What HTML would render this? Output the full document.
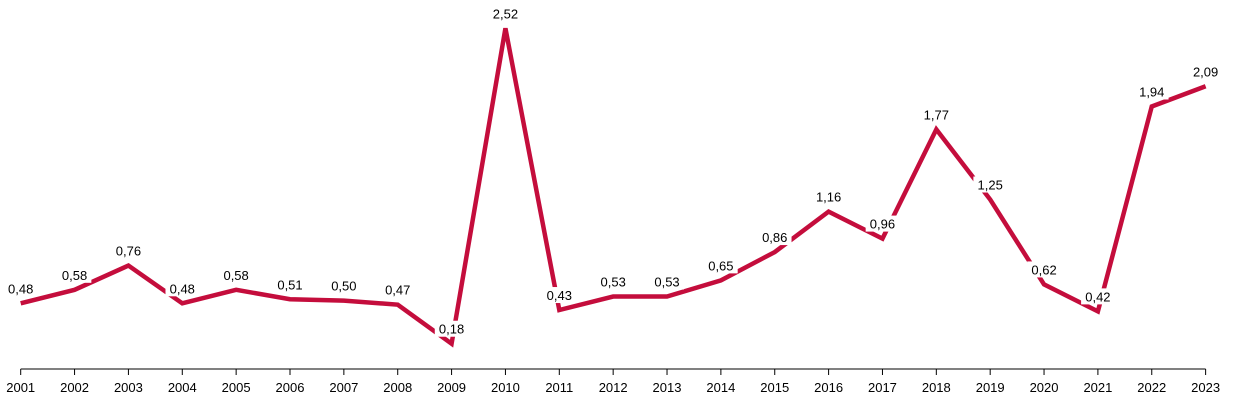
<!DOCTYPE html>
<html><head><meta charset="utf-8"><style>
html,body{margin:0;padding:0;background:#fff;}
svg{display:block;font-family:"Liberation Sans",sans-serif;}
</style></head><body>
<svg id="chart" width="1249" height="412"></svg>
<script>
const years=["2001","2002","2003","2004","2005","2006","2007","2008","2009","2010","2011","2012","2013","2014","2015","2016","2017","2018","2019","2020","2021","2022","2023"];
const values=[0.48,0.58,0.76,0.48,0.58,0.51,0.50,0.47,0.18,2.52,0.43,0.53,0.53,0.65,0.86,1.16,0.96,1.77,1.25,0.62,0.42,1.94,2.09];
const valueLabels=["0,48","0,58","0,76","0,48","0,58","0,51","0,50","0,47","0,18","2,52","0,43","0,53","0,53","0,65","0,86","1,16","0,96","1,77","1,25","0,62","0,42","1,94","2,09"];
const NS="http://www.w3.org/2000/svg";
const svg=document.getElementById('chart');
const x0=20.7,step=53.86,yZero=368,k=134.8;
const xs=i=>x0+i*step;
const ys=v=>yZero-v*k;
function mk(t,a){const e=document.createElementNS(NS,t);for(const n in a)e.setAttribute(n,a[n]);svg.appendChild(e);return e;}
const axis=mk('line',{x1:x0,x2:xs(years.length-1),y1:369,y2:369,stroke:'#000','stroke-width':1});


years.forEach((y,i)=>{
 const t=mk('line',{x1:xs(i),x2:xs(i),y1:369,y2:375,stroke:'#000','stroke-width':1});
 
 
 const l=mk('text',{x:xs(i),y:392,'text-anchor':'middle','font-size':13,fill:'#000'});
 l.textContent=y;
 
 
});
const pts=values.map((v,i)=>xs(i)+','+ys(v)).join(' ');
const line=mk('polyline',{points:pts,fill:'none',stroke:'#c40d3c','stroke-width':4.5,'stroke-linejoin':'miter'});


values.forEach((v,i)=>{
 const cx=xs(i),cy=ys(v)-15;
 const w=valueLabels[i].length*7.4+4;
 const r=mk('rect',{x:cx-w/2,y:cy-8,width:w,height:16,fill:'#fff'});
 
 
 const t=mk('text',{x:cx,y:cy+5,'text-anchor':'middle','font-size':13,fill:'#000'});
 t.textContent=valueLabels[i];
 
 
});
</script>
</body></html>
